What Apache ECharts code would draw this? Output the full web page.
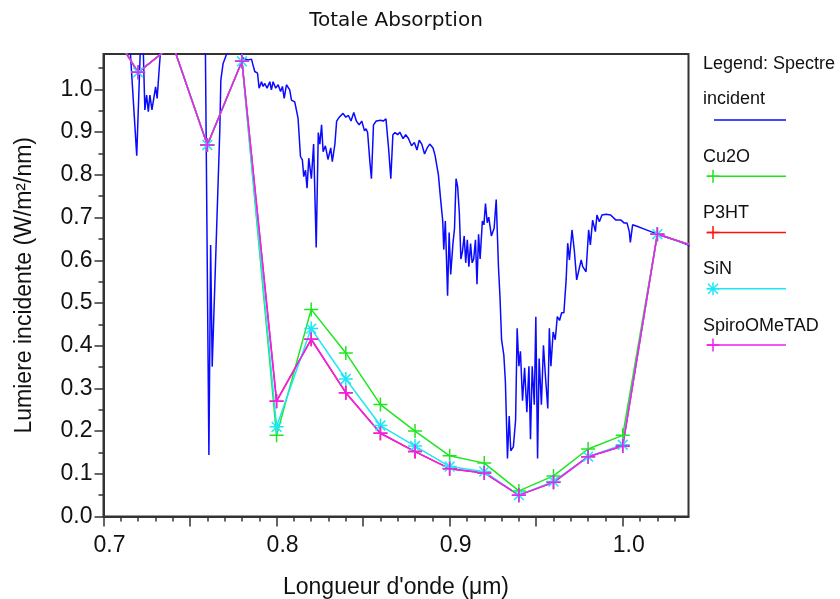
<!DOCTYPE html>
<html>
<head>
<meta charset="utf-8">
<script src="https://cdn.jsdelivr.net/npm/echarts@6/dist/echarts.min.js"></script>
<style>
html,body{margin:0;padding:0;background:#fff;}
#chart{width:840px;height:599px;}
</style>
</head>
<body>
<div id="chart"></div>
<script>
// ---------- data ----------
const chartTitle = 'Totale Absorption';
const xName = "Longueur d'onde (\u03bcm)";
const yName = 'Lumiere incidente (W/m\u00b2/nm)';

const xTickLabels = [0.7, 0.8, 0.9, 1.0];
const xMajorTicks = [0.7, 0.75, 0.8, 0.85, 0.9, 0.95, 1.0];
const xMinorTicks = [0.71,0.72,0.73,0.74,0.76,0.77,0.78,0.79,0.81,0.82,0.83,0.84,0.86,0.87,0.88,0.89,0.91,0.92,0.93,0.94,0.96,0.97,0.98,0.99,1.01,1.02,1.03];
const yTickLabels = [0.0, 0.1, 0.2, 0.3, 0.4, 0.5, 0.6, 0.7, 0.8, 0.9, 1.0];
const yMinorTicks = [0.05, 0.15, 0.25, 0.35, 0.45, 0.55, 0.65, 0.75, 0.85, 0.95, 1.05];

// incident spectrum (µm, W/m²/nm)
const spectrumWl = [
0.700,0.712,0.715,0.7192,0.7215,0.7228,0.7239,0.7249,0.7259,0.7268,0.7280,0.7291,0.7301,0.7310,0.7320,0.7335,0.740,0.750,0.7588,
0.7609,0.7619,0.7628,0.7672,0.7678,0.7691,0.7710,0.7730,0.7780,0.7795,0.7807,0.7836,0.7855,0.7864,0.7874,0.7890,0.7899,0.7913,
0.7922,0.7932,0.7945,0.7961,0.7970,0.7980,0.7995,0.8009,0.8023,0.8034,0.8044,0.8057,0.8076,0.8086,0.8105,0.8124,0.8138,0.8149,
0.8157,0.8167,0.8176,0.8186,0.8201,0.8214,0.8229,0.8241,0.8250,0.8260,0.8269,0.8282,0.8297,0.8313,0.8322,0.8337,0.8347,0.8362,
0.8384,0.8400,0.8415,0.8430,0.8446,0.8461,0.8477,0.8492,0.8508,0.8517,0.8526,0.8539,0.8548,0.8560,0.8576,0.8601,0.8616,0.8632,
0.8647,0.8660,0.8672,0.8684,0.8700,0.8712,0.8731,0.8746,0.8762,0.8780,0.8796,0.8811,0.8824,0.8839,0.8855,0.8870,0.8885,0.8904,
0.8916,0.8935,0.8947,0.8960,0.8966,0.8975,0.8988,0.8997,0.9006,0.9019,0.9028,0.9037,0.9046,0.9056,0.9065,0.9074,0.9084,0.9093,
0.9102,0.9111,0.9121,0.9130,0.9139,0.9149,0.9158,0.9167,0.9176,0.9189,0.9198,0.9207,0.9217,0.9226,0.9241,0.9257,0.9269,0.9282,
0.9291,0.9300,0.9313,0.9322,0.9334,0.9344,0.9353,0.9368,0.9381,0.9390,0.9400,0.9409,0.9421,0.9433,0.9446,0.9458,0.9467,0.9477,
0.9489,0.9498,0.9508,0.9517,0.9530,0.9542,0.9554,0.9567,0.9576,0.9585,0.9598,0.9610,0.9622,0.9635,0.9647,0.9660,0.9673,0.9682,
0.9692,0.9707,0.9720,0.9734,0.9760,0.9769,0.9788,0.9803,0.9813,0.9826,0.9842,0.9851,0.9865,0.9880,0.9904,0.9930,0.9961,0.9990,
1.0009,1.0025,1.0038,1.0044,1.0057,1.0086,1.0125,1.0163,1.0192,1.0250,1.0298,1.0327,1.0375,1.0400
];
const spectrumVal = [
1.20,1.20,1.12,0.845,1.12,1.12,0.952,0.987,0.948,0.987,0.952,0.956,1.006,0.979,1.038,1.12,1.16,1.16,1.13,
0.144,0.636,0.351,0.905,1.022,1.061,1.081,1.090,1.090,1.082,1.073,1.069,1.071,1.057,1.042,1.038,1.003,1.018,
1.007,1.014,1.003,1.018,0.999,1.018,1.003,1.011,0.995,1.007,0.979,1.011,0.999,0.975,0.971,0.933,0.843,0.835,
0.796,0.811,0.769,0.839,0.791,0.872,0.630,0.899,0.872,0.917,0.854,0.868,0.836,0.863,0.831,0.872,0.926,0.935,
0.944,0.935,0.939,0.926,0.946,0.926,0.917,0.926,0.903,0.908,0.899,0.831,0.791,0.917,0.926,0.928,0.926,0.931,
0.863,0.791,0.894,0.899,0.894,0.900,0.885,0.894,0.885,0.868,0.876,0.858,0.881,0.872,0.849,0.863,0.872,0.863,
0.845,0.800,0.746,0.692,0.625,0.692,0.517,0.665,0.567,0.639,0.674,0.791,0.773,0.710,0.603,0.621,0.657,0.594,
0.648,0.585,0.639,0.594,0.603,0.648,0.544,0.661,0.603,0.692,0.683,0.733,0.688,0.701,0.657,0.675,0.742,0.585,
0.513,0.414,0.378,0.316,0.136,0.235,0.154,0.163,0.226,0.441,0.352,0.387,0.271,0.348,0.244,0.352,0.181,0.352,
0.262,0.468,0.136,0.370,0.262,0.401,0.325,0.253,0.441,0.352,0.432,0.414,0.468,0.459,0.477,0.477,0.554,0.640,
0.601,0.671,0.624,0.554,0.601,0.585,0.573,0.671,0.636,0.694,0.667,0.706,0.690,0.706,0.708,0.706,0.694,0.694,
0.687,0.687,0.667,0.642,0.683,0.679,0.673,0.667,0.663,0.655,0.648,0.644,0.636,0.633
];

// absorbed light for each layer, sampled every 0.02 µm
const sampleWl   = [0.70,0.72,0.74,0.76,0.78,0.80,0.82,0.84,0.86,0.88,0.90,0.92,0.94,0.96,0.98,1.00,1.02,1.04];
const cu2oVal    = [1.17,1.04,1.105,0.87,1.066,0.190,0.485,0.383,0.262,0.200,0.142,0.125,0.060,0.095,0.158,0.190,0.661,0.635];
const p3htVal    = [1.17,1.04,1.105,0.87,1.066,0.270,0.415,0.290,0.195,0.152,0.112,0.102,0.050,0.080,0.140,0.165,0.661,0.635];
const sinVal     = [1.17,1.04,1.105,0.87,1.066,0.210,0.440,0.322,0.213,0.165,0.117,0.105,0.050,0.082,0.140,0.168,0.661,0.635];
const spiroVal   = [1.17,1.04,1.105,0.87,1.066,0.270,0.415,0.290,0.195,0.152,0.112,0.102,0.050,0.080,0.140,0.165,0.661,0.635];

const seriesNames = ['Cu2O', 'P3HT', 'SiN', 'SpiroOMeTAD'];
// ---------- style ----------
const C_BLUE = '#0a0aff', C_GREEN = '#1ee61e', C_RED = '#ff1010', C_CYAN = '#1ee6f5', C_MAG = '#f01ef0';
const PLUS = 'path://M0,6L12,6M6,0L6,12';
const STAR = 'path://M0,6L12,6M6,0L6,12M1.8,1.8L10.2,10.2M1.8,10.2L10.2,1.8';
const FONT = '"Liberation Sans", Arial, sans-serif';

function zip(a, b) { return a.map((v, i) => [v, b[i]]); }

function sampleSeries(name, vals, color, symbol) {
  return {
    name: name, type: 'line', data: zip(sampleWl, vals),
    symbol: symbol, symbolSize: 14, showSymbol: true, clip: true,
    lineStyle: { color: color, width: 1.5 },
    itemStyle: { color: color, borderColor: color, borderWidth: 1.5 },
    emphasis: { disabled: true }, z: 3
  };
}

// grid geometry
const G_LEFT = 103.5, G_RIGHT = 151.5, G_TOP = 54, G_BOTTOM = 82.5;
const G_W = 840 - G_LEFT - G_RIGHT, G_H = 599 - G_TOP - G_BOTTOM;

// legend (graphic)
const LX = 703, LINE_X1 = 707, LINE_X2 = 786, MX = 713;
const legendFont = '18px ' + FONT;
const graphics = [];
graphics.push({ type: 'text', x: 396, y: 21, style: { text: chartTitle, font: '20px "DejaVu Sans", sans-serif', fill: '#111', align: 'center', verticalAlign: 'middle' } });
graphics.push({ type: 'text', x: LX, y: 64, style: { text: 'Legend: Spectre', font: legendFont, fill: '#111', verticalAlign: 'middle' } });
graphics.push({ type: 'text', x: LX, y: 99, style: { text: 'incident', font: legendFont, fill: '#111', verticalAlign: 'middle' } });
graphics.push({ type: 'line', shape: { x1: 714, y1: 120, x2: LINE_X2, y2: 120 }, style: { stroke: C_BLUE, lineWidth: 1.5 } });
const legColors = [C_GREEN, C_RED, C_CYAN, C_MAG];
const legStar = [false, false, true, false];
seriesNames.forEach((n, i) => {
  const ty = 156.7 + i * 56.3, ly = ty + 19.5;
  graphics.push({ type: 'text', x: LX, y: ty, style: { text: n, font: legendFont, fill: '#111', verticalAlign: 'middle' } });
  graphics.push({ type: 'line', shape: { x1: LINE_X1, y1: ly, x2: LINE_X2, y2: ly }, style: { stroke: legColors[i], lineWidth: 1.5 } });
  graphics.push({ type: 'line', shape: { x1: MX, y1: ly - 6.5, x2: MX, y2: ly + 6.5 }, style: { stroke: legColors[i], lineWidth: 1.5 } });
  if (legStar[i]) {
    graphics.push({ type: 'line', shape: { x1: MX - 6.5, y1: ly, x2: MX + 6.5, y2: ly }, style: { stroke: legColors[i], lineWidth: 1.5 } });
    graphics.push({ type: 'line', shape: { x1: MX - 5, y1: ly - 5, x2: MX + 5, y2: ly + 5 }, style: { stroke: legColors[i], lineWidth: 1.5 } });
    graphics.push({ type: 'line', shape: { x1: MX - 5, y1: ly + 5, x2: MX + 5, y2: ly - 5 }, style: { stroke: legColors[i], lineWidth: 1.5 } });
  } else {
    graphics.push({ type: 'line', shape: { x1: MX - 6.5, y1: ly, x2: MX + 6.5, y2: ly }, style: { stroke: legColors[i], lineWidth: 1.5 } });
  }
});

const XMIN = 0.7, XMAX = 1.038, YMIN = 0, YMAX = 1.083;
const axisColor = '#333';
const labelStyle = { fontFamily: FONT, fontSize: 23, color: '#111' };

const option = {
  animation: false,
  backgroundColor: '#fff',
  grid: { left: G_LEFT, right: G_RIGHT, top: G_TOP, bottom: G_BOTTOM, containLabel: false, outerBoundsMode: 'none',
          show: true, borderColor: axisColor, borderWidth: 2, backgroundColor: 'transparent' },
  xAxis: [
    {
      type: 'value', min: XMIN, max: XMAX, position: 'bottom',
      name: xName, nameLocation: 'middle', nameGap: 60,
      nameTextStyle: { fontFamily: FONT, fontSize: 23, color: '#111' },
      axisLine: { show: true, lineStyle: { color: axisColor, width: 2 } },
      axisTick: { show: true, length: 10, customValues: xMajorTicks, lineStyle: { color: axisColor, width: 1.5 } },
      axisLabel: Object.assign({ customValues: xTickLabels, margin: 18, padding: [0, 0, 0, 12], formatter: v => Number(v).toFixed(1) }, labelStyle),
      splitLine: { show: false }
    },
    {
      // minor ticks: a top axis moved down onto the bottom edge, ticks pointing down
      type: 'value', min: XMIN, max: XMAX, position: 'top', offset: -G_H,
      axisLine: { show: false },
      axisTick: { show: true, inside: true, length: 5, customValues: xMinorTicks, lineStyle: { color: axisColor, width: 1.5 } },
      axisLabel: { show: false }, splitLine: { show: false }
    }
  ],
  yAxis: [
    {
      type: 'value', min: YMIN, max: YMAX, position: 'left',
      name: yName, nameLocation: 'middle', nameGap: 67, nameRotate: 90,
      nameTextStyle: { fontFamily: FONT, fontSize: 23, color: '#111' },
      axisLine: { show: true, lineStyle: { color: axisColor, width: 2 } },
      axisTick: { show: true, length: 9, customValues: yTickLabels, lineStyle: { color: axisColor, width: 1.5 } },
      axisLabel: Object.assign({ customValues: yTickLabels, margin: 11, formatter: v => Number(v).toFixed(1) }, labelStyle),
      splitLine: { show: false }
    },
    {
      // minor ticks: a right axis moved onto the left edge, ticks pointing left
      type: 'value', min: YMIN, max: YMAX, position: 'right', offset: -G_W,
      axisLine: { show: false },
      axisTick: { show: true, inside: true, length: 5, customValues: yMinorTicks, lineStyle: { color: axisColor, width: 1.5 } },
      axisLabel: { show: false }, splitLine: { show: false }
    }
  ],
  series: [
    {
      name: 'Spectre incident', type: 'line', data: zip(spectrumWl, spectrumVal),
      showSymbol: false, symbol: 'none', clip: true,
      lineStyle: { color: C_BLUE, width: 1.5 }, emphasis: { disabled: true }, z: 2
    },
    sampleSeries(seriesNames[0], cu2oVal, C_GREEN, PLUS),
    sampleSeries(seriesNames[1], p3htVal, C_RED, PLUS),
    sampleSeries(seriesNames[2], sinVal, C_CYAN, STAR),
    sampleSeries(seriesNames[3], spiroVal, C_MAG, PLUS)
  ],
  graphic: graphics
};

const chart = echarts.init(document.getElementById('chart'), null, { renderer: 'canvas' });
chart.setOption(option);
</script>
</body>
</html>
